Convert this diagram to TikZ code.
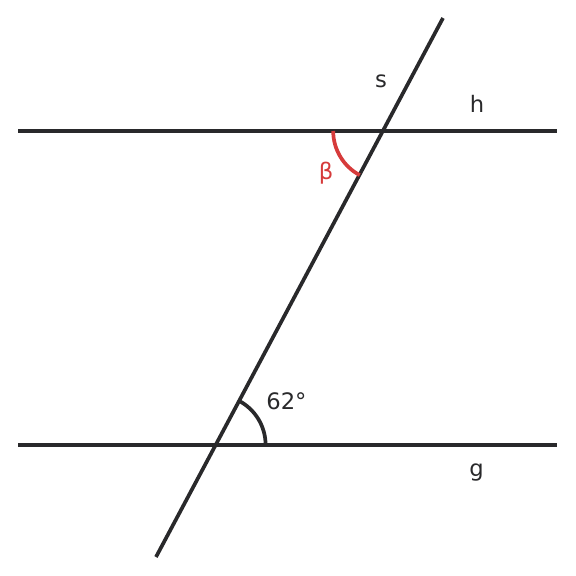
\documentclass[tikz,border=0pt]{standalone}
\usepackage{fontspec}
\setmainfont{DejaVu Sans}
\newlength{\du}
\setlength{\du}{0.75pt}
\definecolor{linecolor}{rgb}{0.16,0.16,0.17}
\definecolor{anglered}{rgb}{0.84,0.23,0.23}
\tikzset{
  geoline/.style={line width=3.7\du, draw=linecolor, line cap=butt},
  anglearc/.style={line width=3.7\du, line cap=butt},
  lbl/.style={anchor=base, inner sep=0pt, text=linecolor, font=\fontsize{17}{20}\selectfont}
}

\begin{document}
\begin{tikzpicture}[yscale=-1]
\useasboundingbox (0\du,0\du) rectangle (576\du,576\du);
% points of the parallels and the transversal
\coordinate (hL) at (18\du,131\du);
\coordinate (hR) at (557\du,131\du);
\coordinate (gL) at (18\du,445\du);
\coordinate (gR) at (557\du,445\du);
\coordinate (sB) at (156\du,557\du);
\coordinate (sT) at (443\du,18\du);
\coordinate (G) at (215.6\du,445\du);
\coordinate (H) at (383.2\du,131\du);
% lines
\draw[geoline] (hL) -- (hR);
\draw[geoline] (gL) -- (gR);
\draw[geoline] (sB) -- (sT);
% angles
\draw[anglearc, draw=linecolor] (G) ++(50\du,0\du) arc[start angle=0, end angle=-62, radius=50\du];
\draw[anglearc, draw=anglered] (H) ++(-50\du,0\du) arc[start angle=-180, end angle=-242, radius=50\du];
% labels
\node[lbl] (sLabel) at (381\du,87\du) {s};
\node[lbl] (hLabel) at (477\du,112\du) {h};
\node[lbl] (gLabel) at (476.5\du,476\du) {g};
\node[lbl] (alphaLabel) at (286.5\du,409.5\du) {62°};
\node[lbl, text=anglered] (betaLabel) at (326\du,179.5\du) {β};
\end{tikzpicture}
\end{document}
